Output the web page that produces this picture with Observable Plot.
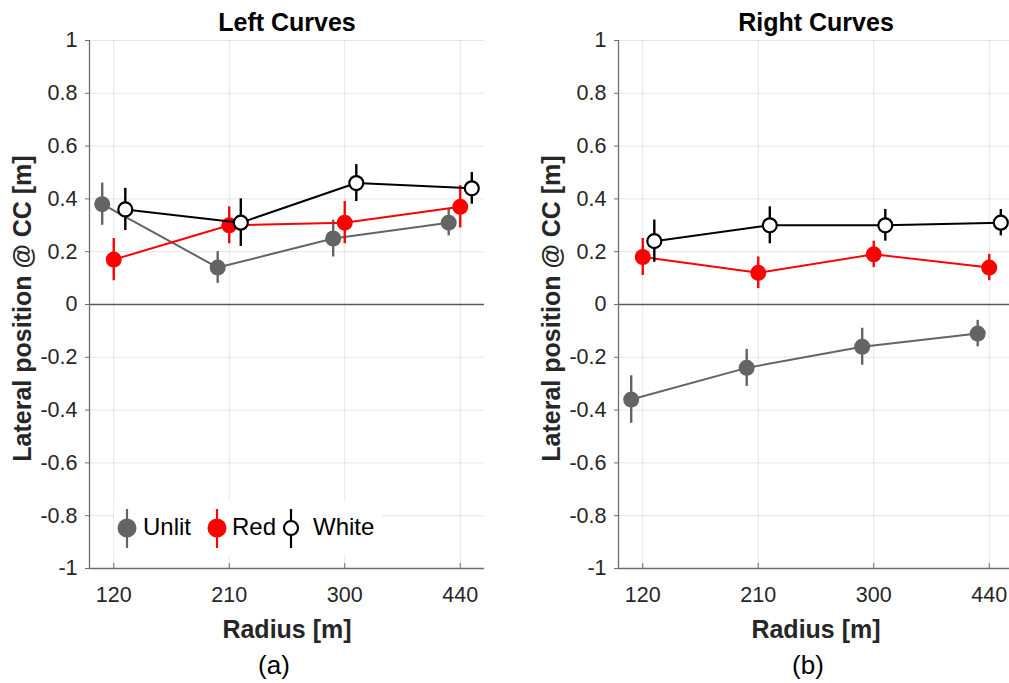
<!DOCTYPE html>
<html>
<head>
<meta charset="utf-8">
<script src="https://cdn.jsdelivr.net/npm/d3@7"></script>
<script src="https://cdn.jsdelivr.net/npm/@observablehq/plot@0.6"></script>
<style>
  html, body { margin: 0; padding: 0; background: #fff; overflow: hidden; width: 1009px; height: 683px; }
  #wrap { position: relative; width: 1009px; height: 683px; font-family: "Liberation Sans", Arial, sans-serif; }
  .panel { position: absolute; top: 0; }
  #legend { position: absolute; left: 114px; top: 501px; width: 268px; height: 54px; background: #fff;
            font-size: 24px; color: #000; }
  #legend svg { position: absolute; top: 5px; display: block; }
  #legend span { position: absolute; top: 12px; line-height: 28px; }
</style>
</head>
<body>
<div id="wrap"></div>
<script>
// ---- data ----
const radii = ["120", "210", "300", "440"];
const seriesNames = ["Unlit", "Red", "White"];

const leftUnlit = [0.38, 0.14, 0.25, 0.31];
const leftUnlitErr = [0.08, 0.06, 0.07, 0.05];
const leftRed = [0.17, 0.30, 0.31, 0.37];
const leftRedErr = [0.08, 0.07, 0.08, 0.08];
const leftWhite = [0.36, 0.31, 0.46, 0.44];
const leftWhiteErr = [0.08, 0.09, 0.07, 0.06];

const rightUnlit = [-0.36, -0.24, -0.16, -0.11];
const rightUnlitErr = [0.09, 0.07, 0.07, 0.05];
const rightRed = [0.18, 0.12, 0.19, 0.14];
const rightRedErr = [0.07, 0.06, 0.05, 0.05];
const rightWhite = [0.24, 0.30, 0.30, 0.31];
const rightWhiteErr = [0.08, 0.07, 0.06, 0.05];

const yTicks = [-1, -0.8, -0.6, -0.4, -0.2, 0, 0.2, 0.4, 0.6, 0.8, 1];

// ---- styling ----
const colors = {Unlit: "#646464", Red: "#ff0000", White: "#000000"};
const fills = {Unlit: "#646464", Red: "#ff0000", White: "#ffffff"};
const dodge = {Unlit: -0.1, Red: 0, White: 0.1};
const xDomain = [-0.21, 3.21];
const yDomain = [-1, 1];
const tickFont = 21.5;

function rowsFor(vals, errs, name) {
  return vals.map((v, i) => ({series: name, i, x: i + dodge[name], y: v, lo: v - errs[i], hi: v + errs[i]}));
}

function panel(series, title, caption, capDx) {
  const xIdx = d3.range(radii.length);
  const marks = [
    Plot.gridY(yTicks, {stroke: "#000", strokeOpacity: 0.1}),
    Plot.gridX(xIdx, {stroke: "#000", strokeOpacity: 0.1}),
    Plot.ruleY([0], {stroke: "#5a5a5a", strokeWidth: 1.5}),
    Plot.ruleX([xDomain[0]], {stroke: "#6e6e6e", strokeWidth: 1.3}),
    Plot.ruleY([yDomain[0]], {stroke: "#6e6e6e", strokeWidth: 1.3}),
    Plot.axisY({ticks: yTicks, tickFormat: () => "", tickSize: 4, label: null, stroke: "#6e6e6e"}),
    Plot.axisX({ticks: xIdx, tickFormat: () => "", tickSize: -5, label: null, stroke: "#6e6e6e"}),
    // tick labels
    Plot.text(yTicks, {y: d => d, text: d => String(d), frameAnchor: "left", textAnchor: "end", lineAnchor: "middle", dx: -12, fontSize: tickFont, fill: "#262626"}),
    Plot.text(xIdx, {x: d => d, text: i => radii[i], frameAnchor: "bottom", textAnchor: "middle", lineAnchor: "middle", dy: 27, fontSize: tickFont, fill: "#262626"})
  ];
  for (const rows of series) {
    const name = rows[0].series;
    marks.push(Plot.line(rows, {x: "x", y: "y", stroke: colors[name], strokeWidth: 2}));
    marks.push(Plot.ruleX(rows, {x: "x", y1: "lo", y2: "hi", stroke: colors[name], strokeWidth: 2.4}));
    marks.push(Plot.dot(rows, {x: "x", y: "y", r: name === "White" ? 7 : 8,
      fill: fills[name], stroke: name === "White" ? "#000" : "none", strokeWidth: 2.2}));
  }
  marks.push(Plot.text([title], {text: d => d, frameAnchor: "top", lineAnchor: "middle", textAnchor: "middle", dy: -18, fontSize: 25, fontWeight: "bold", fill: "#000"}));
  marks.push(Plot.text(["Lateral position @ CC [m]"], {text: d => d, frameAnchor: "left", lineAnchor: "middle", textAnchor: "middle", dx: -67, dy: 4, rotate: -90, fontSize: 25, fontWeight: "bold", fill: "#262626"}));
  marks.push(Plot.text(["Radius [m]"], {text: d => d, frameAnchor: "bottom", lineAnchor: "middle", textAnchor: "middle", dy: 61, fontSize: 25, fontWeight: "bold", fill: "#262626"}));
  marks.push(Plot.text([caption], {text: d => d, frameAnchor: "bottom", lineAnchor: "middle", textAnchor: "middle", dy: 97, dx: capDx, fontSize: 26, fill: "#000"}));
  return Plot.plot({
    width: 505, height: 683,
    marginLeft: 89, marginRight: 21, marginTop: 40, marginBottom: 115,
    x: {domain: xDomain},
    y: {domain: yDomain},
    style: {fontFamily: "'Liberation Sans', Arial, sans-serif", fontSize: tickFont + "px", color: "#262626", background: "transparent", overflow: "visible"},
    marks
  });
}

const wrap = document.getElementById("wrap");
const left = panel([
  rowsFor(leftUnlit, leftUnlitErr, "Unlit"),
  rowsFor(leftRed, leftRedErr, "Red"),
  rowsFor(leftWhite, leftWhiteErr, "White")
], "Left Curves", "(a)", -13);
left.classList.add("panel"); left.style.left = "0px";
wrap.appendChild(left);

const right = panel([
  rowsFor(rightUnlit, rightUnlitErr, "Unlit"),
  rowsFor(rightRed, rightRedErr, "Red"),
  rowsFor(rightWhite, rightWhiteErr, "White")
], "Right Curves", "(b)", -8);
right.classList.add("panel"); right.style.left = "529px";
wrap.appendChild(right);

// legend (left panel) — glyph centers and text starts, relative to legend box
const legendLayout = {Unlit: [13, 29], Red: [103, 118], White: [177, 199]};
const legend = document.createElement("div");
legend.id = "legend";
for (const name of seriesNames) {
  const [cx, tx] = legendLayout[name];
  const r = name === "White" ? 7 : 9.5;
  legend.insertAdjacentHTML("beforeend",
    `<svg width="30" height="44" viewBox="0 0 30 44" style="left:${cx - 15}px">
       <line x1="15" x2="15" y1="3" y2="42" stroke="${colors[name]}" stroke-width="2.2"/>
       <circle cx="15" cy="22" r="${r}" fill="${fills[name]}" stroke="${name === "White" ? "#000" : "none"}" stroke-width="2.2"/>
     </svg><span style="left:${tx}px">${name}</span>`);
}
wrap.appendChild(legend);
</script>
</body>
</html>
